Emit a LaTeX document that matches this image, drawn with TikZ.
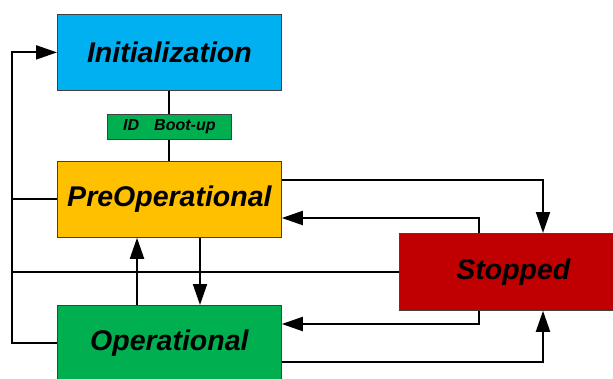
\documentclass[tikz,border=0pt]{standalone}
\usepackage{fontspec}
\setmainfont{Liberation Sans}
\usetikzlibrary{arrows.meta,calc}
\definecolor{initblue}{HTML}{00B0F0}
\definecolor{preorange}{HTML}{FFC000}
\definecolor{opgreen}{HTML}{00B050}
\definecolor{stopred}{HTML}{C00000}
\begin{document}
\begin{tikzpicture}[x=1pt,y=-1pt,
  state/.style={draw=black!75, line width=0.8pt, inner sep=0pt, anchor=north west,
    minimum width=224pt, minimum height=76pt,
    font=\fontsize{28.5}{32}\selectfont\bfseries\itshape},
  tag/.style={draw=black!75, line width=0.8pt, inner sep=0pt, anchor=north west,
    fill=opgreen, minimum width=124pt, minimum height=25pt,
    font=\fontsize{16}{18}\selectfont\bfseries\itshape},
  link/.style={line width=2pt},
  arr/.style={link, -{Triangle[length=21pt,width=14pt]}}]
\useasboundingbox (0,0) rectangle (613,378);
\clip (0,0) rectangle (613,378);
\fill[white] (0,0) rectangle (613,378);

% states
\node[state, fill=initblue] (init) at (57,14) {Initialization};
\node[tag] (boot) at (107,114) {ID\hspace{15pt}Boot-up};
\node[state, fill=preorange] (pre) at (57,161) {PreOperational};
\node[state, fill=opgreen] (op) at (57,305) {Operational};
\node[state, fill=stopred, minimum width=228pt, minimum height=77pt] (stop) at (399,233) {Stopped};

% boot-up path
\draw[link] (init.south) -- (boot.north);
\draw[link] (boot.south) -- (pre.north);

% reset bus on the left
\coordinate (bus) at (12,0);
\draw[arr] (op.west) -| (bus |- init.west) -- (init.west);
\draw[link] (pre.west) -- (bus |- pre.west);
\draw[link] (stop.west) -- (bus |- stop.west);

% transitions between PreOperational and Operational
\draw[arr] ($(pre.south west)+(143,0)$) -- ($(op.north west)+(143,0)$);
\draw[arr] ($(op.north west)+(80,0)$) -- ($(pre.south west)+(80,0)$);

% transitions to and from Stopped
\draw[arr] ($(pre.north east)+(0,19)$) -| ($(stop.north west)+(144,0)$);
\draw[arr] ($(stop.north west)+(80,0)$) |- ($(pre.north east)+(0,57)$);
\draw[arr] ($(stop.south west)+(80,0)$) |- ($(op.north east)+(0,19)$);
\draw[arr] ($(op.north east)+(0,57)$) -| ($(stop.south west)+(144,0)$);
\end{tikzpicture}
\end{document}
